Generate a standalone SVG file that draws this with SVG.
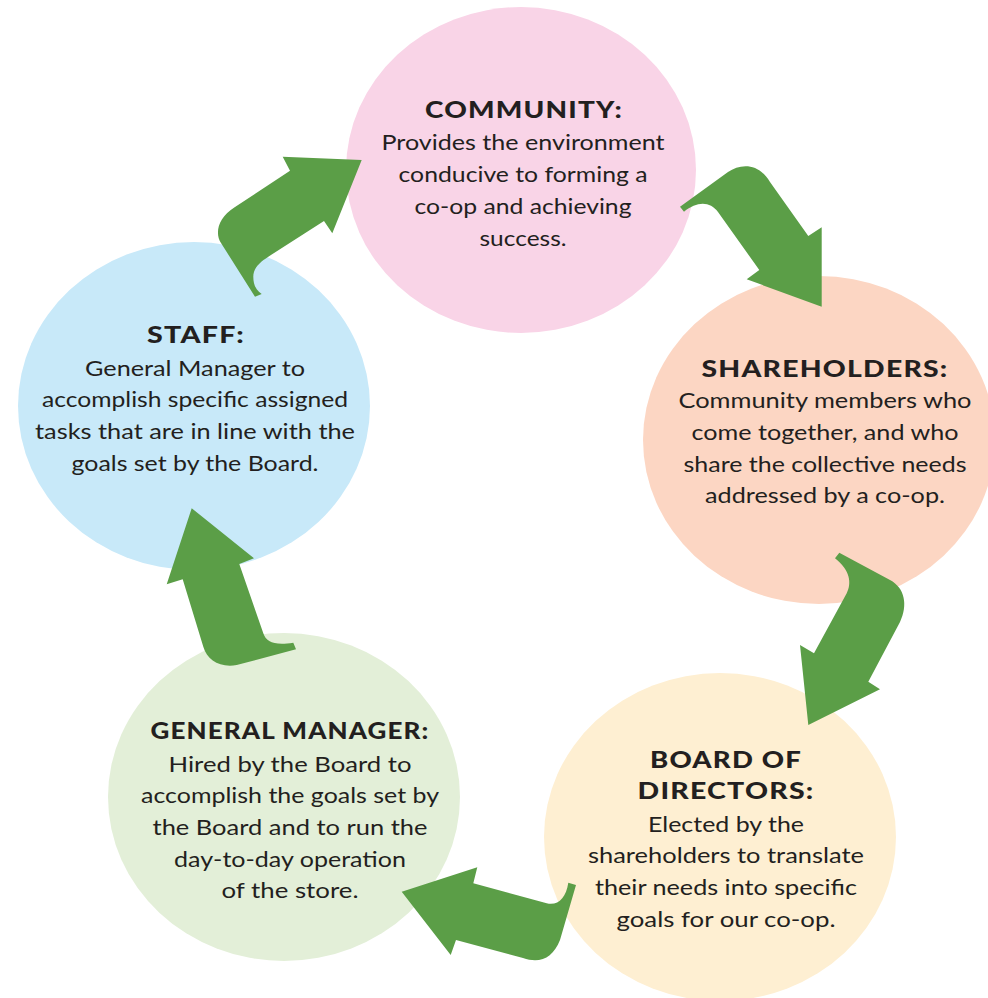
<svg xmlns="http://www.w3.org/2000/svg" width="988" height="998" viewBox="0 0 988 998">
<style>
.h{font-family:Lato,"Open Sans","Liberation Sans",sans-serif;font-weight:900;font-size:23px;fill:#231F20;text-anchor:middle;letter-spacing:1px}
.b{font-family:Lato,"Open Sans","Liberation Sans",sans-serif;font-weight:400;font-size:22px;fill:#231F20;text-anchor:middle}
.arrow{fill:#5B9E47}
</style>
<rect width="988" height="998" fill="#FFFFFF"/>
<g id="community">
<ellipse cx="521" cy="170" rx="175" ry="163" fill="#F9D4E7"/>
<text class="h" x="524" y="118" textLength="198" lengthAdjust="spacingAndGlyphs">COMMUNITY:</text>
<text class="b" x="523" y="150" textLength="283" lengthAdjust="spacingAndGlyphs">Provides the environment</text>
<text class="b" x="523" y="182" textLength="249" lengthAdjust="spacingAndGlyphs">conducive to forming a</text>
<text class="b" x="523" y="214" textLength="217" lengthAdjust="spacingAndGlyphs">co-op and achieving</text>
<text class="b" x="523" y="246" textLength="87" lengthAdjust="spacingAndGlyphs">success.</text>
</g>
<g id="shareholders">
<ellipse cx="819" cy="440" rx="176" ry="164" fill="#FCD6C3"/>
<text class="h" x="825" y="377" textLength="247" lengthAdjust="spacingAndGlyphs">SHAREHOLDERS:</text>
<text class="b" x="825" y="408" textLength="293" lengthAdjust="spacingAndGlyphs">Community members who</text>
<text class="b" x="825" y="440" textLength="267" lengthAdjust="spacingAndGlyphs">come together, and who</text>
<text class="b" x="825" y="472" textLength="283" lengthAdjust="spacingAndGlyphs">share the collective needs</text>
<text class="b" x="825" y="503" textLength="240" lengthAdjust="spacingAndGlyphs">addressed by a co-op.</text>
</g>
<g id="board">
<ellipse cx="720" cy="837" rx="176" ry="164" fill="#FEEFD2"/>
<text class="h" x="726" y="768" textLength="152" lengthAdjust="spacingAndGlyphs">BOARD OF</text>
<text class="h" x="726" y="799" textLength="177" lengthAdjust="spacingAndGlyphs">DIRECTORS:</text>
<text class="b" x="726" y="832" textLength="156" lengthAdjust="spacingAndGlyphs">Elected by the</text>
<text class="b" x="726" y="863" textLength="276" lengthAdjust="spacingAndGlyphs">shareholders to translate</text>
<text class="b" x="726" y="895" textLength="262" lengthAdjust="spacingAndGlyphs">their needs into specific</text>
<text class="b" x="726" y="927" textLength="219" lengthAdjust="spacingAndGlyphs">goals for our co-op.</text>
</g>
<g id="general-manager">
<ellipse cx="284" cy="797" rx="176" ry="164" fill="#E3EFD8"/>
<text class="h" x="290" y="739" textLength="279" lengthAdjust="spacingAndGlyphs">GENERAL MANAGER:</text>
<text class="b" x="290" y="772" textLength="243" lengthAdjust="spacingAndGlyphs">Hired by the Board to</text>
<text class="b" x="290" y="803" textLength="298" lengthAdjust="spacingAndGlyphs">accomplish the goals set by</text>
<text class="b" x="290" y="835" textLength="275" lengthAdjust="spacingAndGlyphs">the Board and to run the</text>
<text class="b" x="290" y="867" textLength="232" lengthAdjust="spacingAndGlyphs">day-to-day operation</text>
<text class="b" x="290" y="898" textLength="137" lengthAdjust="spacingAndGlyphs">of the store.</text>
</g>
<g id="staff">
<ellipse cx="194" cy="406" rx="176" ry="164" fill="#C8E9F9"/>
<text class="h" x="196" y="343" textLength="98" lengthAdjust="spacingAndGlyphs">STAFF:</text>
<text class="b" x="195" y="376" textLength="220" lengthAdjust="spacingAndGlyphs">General Manager to</text>
<text class="b" x="195" y="407" textLength="306" lengthAdjust="spacingAndGlyphs">accomplish specific assigned</text>
<text class="b" x="195" y="439" textLength="320" lengthAdjust="spacingAndGlyphs">tasks that are in line with the</text>
<text class="b" x="195" y="471" textLength="247" lengthAdjust="spacingAndGlyphs">goals set by the Board.</text>
</g>
<g id="connectors">
<path class="arrow" d="M290,170.7 L282.7,156.7 L361.7,160 L332.3,233.3 L324,221 L268.3,256.7 C260,262 253.3,268 253.3,276.7 C253.3,285 256,290 261.7,294 L255,296.7 L221,243 C215,234 217,218 235,207 Z"/>
<path class="arrow" d="M680,206.7 L728,172 C740,164 758,162 770,182 L808.3,236 L821.7,227.3 L821.7,306.7 L746.7,279.3 L759.3,270 L718,212 C710,201 697,201 684,211.7 Z"/>
<path class="arrow" d="M839.3,552.7 L890,580 C905,588 908,605 900,622 L868.3,681.7 L880,689.3 L808.3,725 L800,645 L814,653.3 L846.7,593.3 C852,583 850,570 835,558.3 Z"/>
<path class="arrow" d="M401.7,891.7 L477.3,867.3 L473.3,883.3 L546.7,903.3 C558,906 566,898 568.3,882.7 L576,885 L560,940 C553,958 540,964 523,958 L456,940 L450.7,955 Z"/>
<path class="arrow" d="M191.7,508.3 L254,558.3 L239.3,564 L263.3,633.3 C266,642 275,646 293.3,642.7 L296,649.3 L236.7,665 C220,668 207,660 203.3,646.7 L182.7,579.3 L166.7,584.3 Z"/>
</g>
</svg>
